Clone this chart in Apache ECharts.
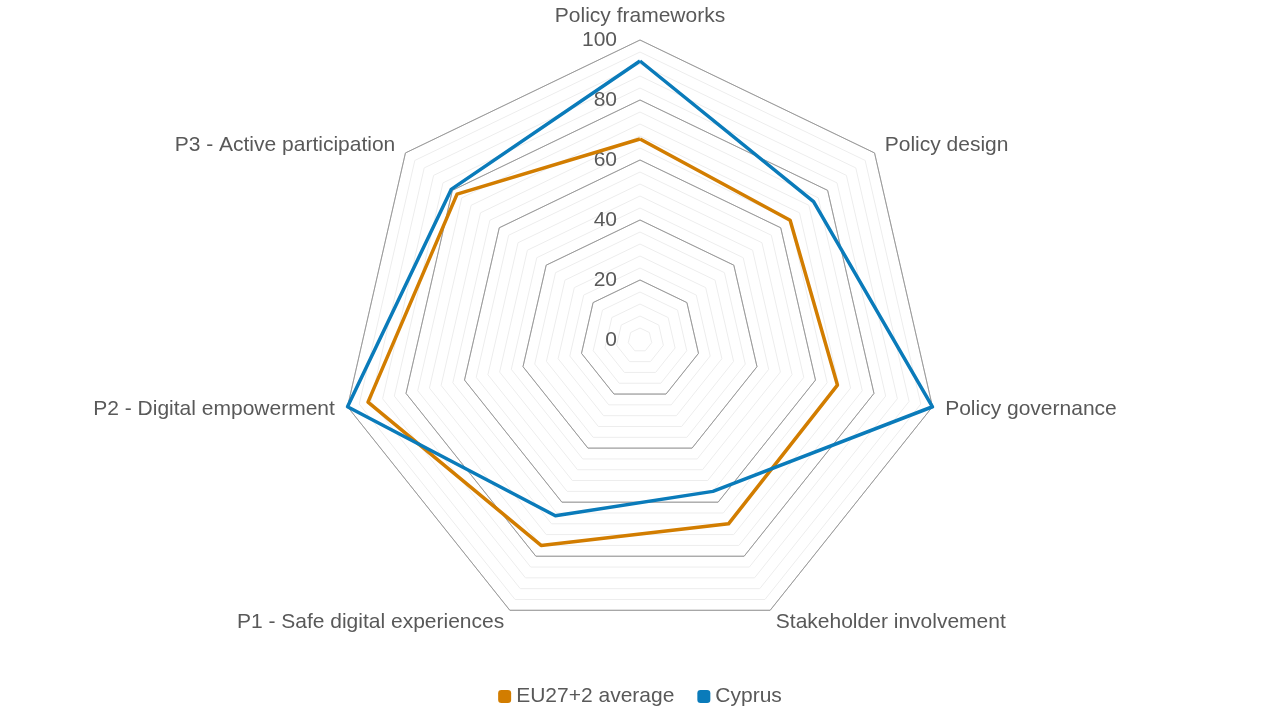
<!DOCTYPE html>
<html><head><meta charset="utf-8">
<script src="https://cdn.jsdelivr.net/npm/echarts@6/dist/echarts.min.js"></script>
<style>html,body{margin:0;padding:0;background:#fff}#c{width:1280px;height:720px}</style>
</head><body><div id="c"></div>
<script>
// Indicators listed clockwise from the top, as in the reference
const indicators = ['Policy frameworks','Policy design','Policy governance','Stakeholder involvement','P1 - Safe digital experiences','P2 - Digital empowerment','P3 - Active participation'];
const seriesNames = ['EU27+2 average','Cyprus'];
const euValues = [67, 64, 67.5, 68, 76, 93, 78];
const cyValues = [93, 74, 100, 56, 65, 100, 80.5];
const tickLabels = ['0','20','40','60','80','100'];
const colors = ['#D27D00','#0A7BBA'];
const font = 'Liberation Sans, Arial, sans-serif';
const txt = '#595959';

// ECharts lays radar indicators counter-clockwise; reorder so they appear clockwise
const order = [0,6,5,4,3,2,1];
const ind = order.map(i => indicators[i]);
const eu = order.map(i => euValues[i]);
const cy = order.map(i => cyValues[i]);

const chart = echarts.init(document.getElementById('c'));
const common = {center:[640,340], radius:300, startAngle:90, clockwise:true, shape:'polygon', splitArea:{show:false}, axisLine:{show:false}, axisTick:{show:false}};
chart.setOption({
  animation:false,
  legend:{data:seriesNames, bottom:8, left:'center', icon:'roundRect', itemWidth:13, itemHeight:13, itemGap:23,
    textStyle:{fontFamily:font, fontSize:21, color:txt}},
  radar:[
    Object.assign({}, common, {
      indicator: ind.map(n=>({name:n, min:0, max:100})),
      splitNumber:25, axisName:{show:false}, axisLabel:{show:false},
      splitLine:{lineStyle:{color:['#cfcfcf','#ededed','#ededed','#ededed','#ededed'], width:1}}
    }),
    Object.assign({}, common, {
      indicator: ind.map((n,i)=> i===0 ? {name:n, min:0, max:100} : {name:n, min:0, max:100, axisLabel:{show:false}}),
      splitNumber:5, nameGap:13,
      axisName:{color:txt, fontFamily:font, fontSize:21},
      axisLabel:{show:true, color:txt, fontFamily:font, fontSize:21, margin:23,
        formatter:(v)=>{const k=Math.round(v/20); return tickLabels[k] !== undefined ? tickLabels[k] : '';}},
      splitLine:{lineStyle:{color:'#9a9a9a', width:1}}
    })
  ],
  series:[{
    type:'radar', radarIndex:1, symbol:'none',
    data:[
      {name:seriesNames[0], value:eu, lineStyle:{color:colors[0], width:3.5}, itemStyle:{color:colors[0]}},
      {name:seriesNames[1], value:cy, lineStyle:{color:colors[1], width:3.5}, itemStyle:{color:colors[1]}}
    ]
  }]
});
</script></body></html>
